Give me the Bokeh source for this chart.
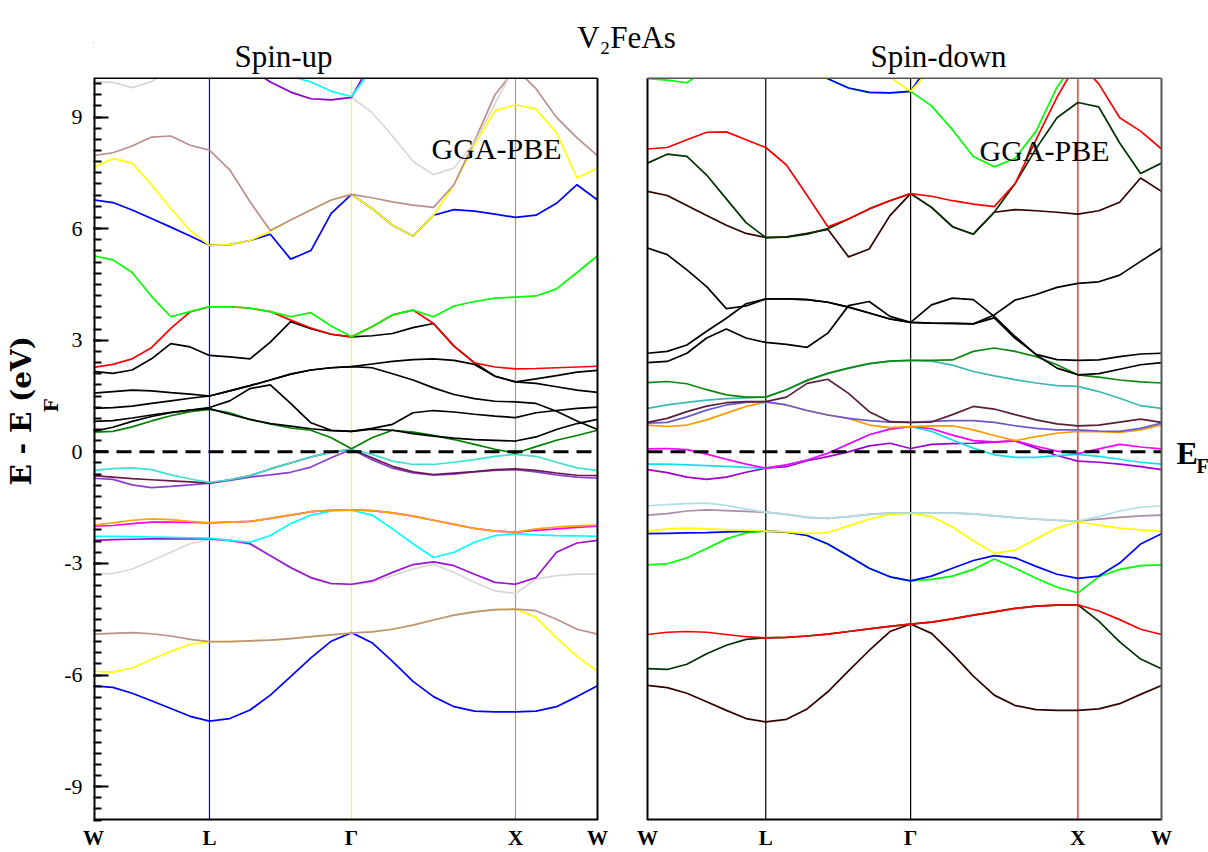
import math
from bokeh.plotting import figure
from bokeh.models import Range1d, FixedTicker, Label, Title
from bokeh.embed import file_html
from bokeh.resources import INLINE

# ---------------- k-path (fcc, units of 2pi/a) ----------------
SEG_LEN = [0.7071, 0.8660, 1.0000, 0.5000]      # W-L, L-G, G-X, X-W
SEG_DIV = [6, 7, 8, 4]                          # sampled points per segment
SYM_LABELS = ["W", "L", "Γ", "X", "W"]
Y_MAJOR = [-9, -6, -3, 0, 3, 6, 9]

# ---------------- Spin-up bands (eV, read at the sampled k-points) ----------------
up_blue_lo   = [-6.29,-6.33,-6.49,-6.69,-6.90,-7.11,-7.24, -7.17,-6.94,-6.54,-6.04,-5.54,-5.09,-4.86, -5.13,-5.63,-6.17,-6.58,-6.85,-6.97,-6.99,-6.99, -6.97,-6.85,-6.58,-6.29]
up_yellow_lo = [-5.90,-5.92,-5.81,-5.58,-5.36,-5.18,-5.10, -5.10,-5.08,-5.06,-5.02,-4.97,-4.92,-4.87, -4.84,-4.77,-4.66,-4.52,-4.39,-4.30,-4.24,-4.23, -4.45,-5.00,-5.50,-5.90]
up_brown_lo  = [-4.90,-4.88,-4.86,-4.89,-4.95,-5.04,-5.10, -5.10,-5.08,-5.06,-5.02,-4.97,-4.92,-4.87, -4.84,-4.77,-4.66,-4.52,-4.39,-4.30,-4.24,-4.23, -4.27,-4.50,-4.77,-4.90]
up_grey_mid  = [-3.29,-3.27,-3.15,-2.93,-2.70,-2.47,-2.36, -2.40,-2.49,-2.81,-3.13,-3.40,-3.56,-3.58, -3.51,-3.33,-3.15,-3.02,-3.24,-3.51,-3.74,-3.81, -3.42,-3.33,-3.29,-3.29]
up_violet_mid= [-2.38,-2.36,-2.35,-2.34,-2.34,-2.34,-2.34, -2.38,-2.47,-2.79,-3.11,-3.38,-3.54,-3.56, -3.47,-3.24,-3.03,-2.96,-3.06,-3.29,-3.51,-3.56, -3.38,-2.70,-2.45,-2.38]
up_cyan_mid  = [-2.27,-2.27,-2.28,-2.29,-2.30,-2.31,-2.32, -2.38,-2.43,-2.25,-1.93,-1.70,-1.59,-1.57, -1.70,-2.07,-2.47,-2.84,-2.70,-2.43,-2.25,-2.20, -2.23,-2.25,-2.26,-2.27]
up_magenta   = [-2.00,-1.98,-1.93,-1.89,-1.89,-1.90,-1.91, -1.89,-1.87,-1.79,-1.70,-1.61,-1.57,-1.56, -1.58,-1.64,-1.73,-1.84,-1.95,-2.06,-2.13,-2.16, -2.11,-2.07,-2.03,-2.00]
up_orange    = [-1.97,-1.91,-1.84,-1.80,-1.82,-1.87,-1.91, -1.89,-1.87,-1.79,-1.70,-1.61,-1.57,-1.56, -1.58,-1.64,-1.73,-1.84,-1.95,-2.06,-2.13,-2.16, -2.07,-2.02,-1.99,-1.97]
up_violet_lo = [-0.71,-0.74,-0.89,-0.96,-0.93,-0.89,-0.84, -0.77,-0.68,-0.62,-0.55,-0.41,-0.16,0.07, -0.21,-0.44,-0.57,-0.63,-0.60,-0.54,-0.50,-0.48, -0.54,-0.62,-0.68,-0.71]
up_maroon    = [-0.64,-0.68,-0.72,-0.75,-0.78,-0.81,-0.84, -0.75,-0.64,-0.46,-0.30,-0.14,-0.01,0.07, -0.16,-0.39,-0.54,-0.61,-0.57,-0.53,-0.48,-0.46, -0.50,-0.57,-0.63,-0.64]
up_turq      = [-0.50,-0.45,-0.43,-0.48,-0.62,-0.73,-0.82, -0.75,-0.64,-0.46,-0.30,-0.14,-0.01,0.07, -0.07,-0.25,-0.34,-0.34,-0.28,-0.21,-0.12,-0.07, -0.12,-0.28,-0.43,-0.50]
up_green     = [0.53,0.55,0.67,0.83,0.97,1.08,1.14, 1.05,0.87,0.75,0.64,0.58,0.38,0.08, 0.38,0.58,0.53,0.44,0.33,0.20,0.07,-0.04, 0.14,0.31,0.44,0.58]
up_k1        = [0.55,0.66,0.82,0.95,1.05,1.12,1.16, 1.01,0.87,0.76,0.69,0.62,0.57,0.55, 0.61,0.58,0.49,0.42,0.37,0.33,0.31,0.29, 0.40,0.60,0.76,0.87]
up_k2        = [0.82,0.84,0.91,0.99,1.06,1.12,1.19, 1.37,1.70,1.80,1.30,0.78,0.58,0.55, 0.63,0.74,1.05,1.11,1.07,1.01,0.96,0.92, 1.05,1.11,1.17,1.20]
up_k3        = [1.17,1.19,1.23,1.30,1.37,1.44,1.50, 1.64,1.78,1.93,2.09,2.20,2.26,2.29, 2.26,2.10,1.93,1.72,1.54,1.43,1.36,1.34, 1.30,1.09,0.83,0.60]
up_k4        = [1.58,1.62,1.66,1.64,1.59,1.55,1.50, 1.64,1.78,1.93,2.09,2.20,2.26,2.29, 2.36,2.43,2.48,2.50,2.46,2.35,2.03,1.88, 1.96,2.05,2.14,2.19]
up_k5        = [2.16,2.11,2.20,2.50,2.91,2.82,2.59, 2.55,2.50,2.95,3.50,3.31,3.16,3.09, 3.12,3.18,3.34,3.45,2.84,2.39,2.03,1.88, 1.84,1.75,1.66,1.60]
up_red       = [2.27,2.35,2.50,2.80,3.32,3.76,3.90, 3.90,3.86,3.77,3.54,3.33,3.16,3.09, 3.36,3.68,3.81,3.45,2.84,2.39,2.28,2.23, 2.24,2.26,2.28,2.30]
up_lime      = [5.27,5.16,4.82,4.18,3.63,3.77,3.90, 3.90,3.86,3.77,3.63,3.74,3.38,3.09, 3.36,3.68,3.81,3.63,3.92,4.04,4.13,4.16, 4.19,4.38,4.82,5.27]
up_blue_hi   = [6.77,6.70,6.50,6.27,6.04,5.80,5.55, 5.57,5.68,5.85,5.18,5.41,6.41,6.92, 6.54,6.09,5.80,6.36,6.51,6.47,6.39,6.30, 6.36,6.68,7.18,6.77]
up_yellow_hi = [7.65,7.88,7.76,7.18,6.54,5.95,5.55, 5.57,5.68,5.93,6.23,6.50,6.77,6.92, 6.54,6.09,5.80,6.36,7.18,8.26,9.17,9.33, 9.21,8.58,7.36,7.63]
up_brown_hi  = [7.96,8.04,8.22,8.46,8.49,8.24,8.11, 7.58,6.72,5.95,6.23,6.50,6.77,6.92, 6.83,6.72,6.63,6.57,7.18,8.35,9.60,10.30, 9.76,8.99,8.44,7.96]
up_grey_hi   = [9.95,9.93,9.79,9.95,10.30,10.60,10.80, 10.60,10.30,9.94,9.67,9.49,9.46,9.53, 9.12,8.49,7.81,7.45,7.63,8.31,9.35,10.40, 10.80,10.70,10.50,10.20]
up_violet_hi = [11.0,11.0,11.0,11.0,11.0,11.0,10.9, 10.60,10.30,9.94,9.67,9.49,9.46,9.53, 10.5,11.0,11.0,11.0,11.0,11.0,11.0,11.0, 11.0,11.0,11.0,11.0]
up_cyan_hi   = [11.0,11.0,11.0,11.0,11.0,11.0,11.0, 11.0,10.8,10.5,10.1,9.94,9.69,9.55, 10.3,11.0,11.0,11.0,11.0,11.0,11.0,11.0, 11.0,11.0,11.0,11.0]

# ---------------- Spin-down bands ----------------
dn_darkred    = [-6.28,-6.34,-6.49,-6.72,-6.95,-7.17,-7.26, -7.19,-6.91,-6.45,-5.89,-5.34,-4.83,-4.63, -4.88,-5.43,-6.03,-6.54,-6.82,-6.93,-6.95,-6.95, -6.91,-6.77,-6.52,-6.28]
dn_dkgreen_lo = [-5.83,-5.85,-5.71,-5.43,-5.20,-5.04,-5.00, -4.99,-4.95,-4.90,-4.83,-4.76,-4.69,-4.63, -4.58,-4.49,-4.39,-4.30,-4.21,-4.15,-4.12,-4.11, -4.55,-5.11,-5.57,-5.83]
dn_red_lo     = [-4.91,-4.85,-4.83,-4.85,-4.91,-4.97,-5.00, -4.99,-4.95,-4.90,-4.83,-4.76,-4.69,-4.63, -4.58,-4.49,-4.39,-4.30,-4.21,-4.15,-4.12,-4.11, -4.28,-4.51,-4.77,-4.91]
dn_lime_mid   = [-3.04,-3.01,-2.85,-2.60,-2.34,-2.18,-2.13, -2.16,-2.25,-2.48,-2.80,-3.13,-3.36,-3.47, -3.43,-3.34,-3.16,-2.88,-3.13,-3.40,-3.64,-3.79, -3.36,-3.16,-3.06,-3.04]
dn_blue_mid   = [-2.20,-2.19,-2.18,-2.17,-2.15,-2.14,-2.13, -2.16,-2.25,-2.48,-2.80,-3.13,-3.36,-3.47, -3.34,-3.13,-2.92,-2.79,-2.85,-3.08,-3.29,-3.40, -3.34,-2.99,-2.48,-2.20]
dn_yellow_mid = [-2.14,-2.07,-2.05,-2.07,-2.09,-2.11,-2.13, -2.15,-2.20,-2.17,-1.99,-1.81,-1.68,-1.65, -1.74,-2.02,-2.39,-2.73,-2.64,-2.34,-2.05,-1.88, -1.97,-2.05,-2.10,-2.14]
dn_mauve      = [-1.70,-1.66,-1.59,-1.56,-1.58,-1.60,-1.62, -1.68,-1.76,-1.79,-1.74,-1.68,-1.65,-1.65, -1.65,-1.65,-1.67,-1.72,-1.77,-1.81,-1.84,-1.86, -1.81,-1.76,-1.72,-1.70]
dn_powder     = [-1.45,-1.42,-1.39,-1.38,-1.44,-1.54,-1.62, -1.68,-1.76,-1.79,-1.74,-1.68,-1.65,-1.65, -1.65,-1.65,-1.67,-1.72,-1.77,-1.81,-1.84,-1.86, -1.74,-1.59,-1.49,-1.45]
dn_violet     = [-0.48,-0.56,-0.68,-0.74,-0.68,-0.55,-0.44, -0.40,-0.24,-0.13,0.00,0.16,0.23,0.09, 0.20,0.22,0.23,0.26,0.29,0.10,-0.10,-0.25, -0.28,-0.33,-0.40,-0.48]
dn_cyan       = [-0.33,-0.33,-0.35,-0.37,-0.39,-0.42,-0.44, -0.35,-0.22,-0.04,0.21,0.46,0.61,0.68, 0.55,0.32,0.10,-0.08,-0.15,-0.15,-0.10,-0.07, -0.12,-0.20,-0.28,-0.33]
dn_magenta    = [0.08,0.09,0.06,-0.06,-0.20,-0.33,-0.44, -0.35,-0.22,-0.04,0.21,0.46,0.61,0.68, 0.62,0.45,0.30,0.27,0.30,0.15,0.02,-0.05, 0.08,0.20,0.13,0.08]
dn_orange     = [0.72,0.68,0.72,0.86,1.04,1.22,1.33, 1.26,1.11,0.99,0.90,0.72,0.65,0.68, 0.70,0.70,0.59,0.44,0.30,0.41,0.50,0.55, 0.54,0.52,0.59,0.72]
dn_slate      = [0.77,0.79,0.94,1.12,1.26,1.33,1.35, 1.26,1.11,0.99,0.90,0.84,0.80,0.79, 0.82,0.84,0.84,0.79,0.70,0.63,0.59,0.59, 0.56,0.55,0.63,0.77]
dn_maroon     = [0.79,0.90,1.08,1.23,1.32,1.35,1.35, 1.47,1.84,1.95,1.57,1.08,0.81,0.79, 0.80,1.00,1.22,1.15,1.00,0.86,0.75,0.70, 0.72,0.80,0.88,0.79]
dn_teal       = [1.17,1.26,1.33,1.39,1.43,1.45,1.47, 1.67,1.92,2.11,2.25,2.37,2.44,2.46, 2.44,2.33,2.16,2.04,1.94,1.85,1.78,1.76, 1.62,1.44,1.24,1.17]
dn_green      = [1.86,1.89,1.83,1.67,1.53,1.47,1.47, 1.67,1.92,2.11,2.25,2.37,2.44,2.46, 2.46,2.47,2.70,2.79,2.70,2.56,2.34,2.07, 2.01,1.93,1.88,1.85]
dn_k1         = [5.48,5.30,4.89,4.44,3.85,3.92,4.11, 4.11,4.09,4.02,3.89,3.73,3.57,3.48, 3.46,3.45,3.44,3.68,4.08,4.23,4.42,4.53, 4.57,4.75,5.12,5.48]
dn_k2         = [2.65,2.70,2.87,3.24,3.59,3.98,4.11, 4.11,4.09,4.02,3.89,3.73,3.57,3.48, 3.46,3.45,3.44,3.60,3.05,2.62,2.48,2.46, 2.47,2.56,2.63,2.65]
dn_k3         = [2.40,2.43,2.65,3.06,3.30,3.06,2.94, 2.89,2.81,3.19,3.93,4.04,3.64,3.48, 3.95,4.13,4.09,3.64,3.10,2.61,2.25,2.07, 2.10,2.22,2.34,2.40]
dn_maroon_hi  = [7.00,6.89,6.62,6.35,6.09,5.87,5.76, 5.78,5.87,5.98,5.24,5.45,6.35,6.94, 6.57,6.05,5.85,6.44,6.51,6.48,6.44,6.39, 6.48,6.71,7.36,7.00]
dn_dkgreen_hi = [7.76,8.00,7.94,7.44,6.80,6.16,5.76, 5.77,5.85,6.00,6.26,6.53,6.75,6.94, 6.57,6.05,5.85,6.44,7.21,8.15,8.98,9.39, 9.27,8.30,7.48,7.76]
dn_red_hi     = [8.14,8.18,8.39,8.59,8.60,8.39,8.18, 7.71,6.89,6.05,6.26,6.53,6.75,6.94, 6.87,6.75,6.66,6.59,7.21,8.39,9.53,10.50, 9.89,8.98,8.62,8.14]
dn_lime_hi    = [10.03,9.99,9.92,10.30,10.60,10.80,10.90, 10.70,10.40,10.03,9.78,9.66,9.65,9.69, 9.30,8.66,7.94,7.66,7.89,8.62,9.80,10.60, 10.90,10.80,10.60,10.20]
dn_blue_hi    = [11.0,11.0,11.0,11.0,11.0,11.0,10.9, 10.70,10.40,10.03,9.78,9.66,9.65,9.69, 10.5,11.0,11.0,11.0,11.0,11.0,11.0,11.0, 11.0,11.0,11.0,11.0]
dn_yellow_hi  = [11.0,11.0,11.0,11.0,11.0,11.0,11.0, 11.0,11.0,11.0,10.8,10.35,10.07,9.69, 10.3,11.0,11.0,11.0,11.0,11.0,11.0,11.0, 11.0,11.0,11.0,11.0]

LEFT_BANDS = [
    (up_blue_lo, "#0000ff"), (up_yellow_lo, "#ffff00"), (up_brown_lo, "#bc8f8f"),
    (up_grey_mid, "#d8d8d8"), (up_violet_mid, "#9a12d8"), (up_cyan_mid, "#00ffff"),
    (up_magenta, "#ff00ff"), (up_orange, "#ffa500"), (up_violet_lo, "#8b3fcf"),
    (up_maroon, "#6b1a4f"), (up_turq, "#40e0d0"), (up_green, "#008000"),
    (up_k1, "#000000"), (up_k2, "#000000"), (up_k3, "#000000"), (up_k4, "#000000"),
    (up_k5, "#000000"), (up_red, "#ff0000"), (up_lime, "#00ff00"),
    (up_blue_hi, "#0000ff"), (up_yellow_hi, "#ffff00"), (up_brown_hi, "#bc8f8f"),
    (up_grey_hi, "#d8d8d8"), (up_violet_hi, "#9400d3"), (up_cyan_hi, "#00ffff"),
]
RIGHT_BANDS = [
    (dn_darkred, "#330000"), (dn_dkgreen_lo, "#003300"), (dn_red_lo, "#ff0000"),
    (dn_lime_mid, "#00ff00"), (dn_blue_mid, "#0000ff"), (dn_yellow_mid, "#ffff00"),
    (dn_mauve, "#b08aa8"), (dn_powder, "#b0e0e6"), (dn_violet, "#a000d0"),
    (dn_cyan, "#10e0e8"), (dn_magenta, "#ff00ff"), (dn_orange, "#ff9900"),
    (dn_slate, "#6a5acd"), (dn_maroon, "#5a1e3c"), (dn_teal, "#3cb8b0"),
    (dn_green, "#108810"), (dn_k1, "#000000"), (dn_k2, "#000000"), (dn_k3, "#000000"),
    (dn_maroon_hi, "#330000"), (dn_dkgreen_hi, "#003300"), (dn_red_hi, "#ff0000"),
    (dn_lime_hi, "#00ff00"), (dn_blue_hi, "#0000ff"), (dn_yellow_hi, "#ffff00"),
]
LEFT_SYM_COLORS = ["#0000ff", "#ffff00", "#bc8f8f"]
RIGHT_SYM_COLORS = ["#000000", "#000000", "#ff0000"]

# ---------------- k grid ----------------
K_SYM = [0.0]
for L in SEG_LEN:
    K_SYM.append(K_SYM[-1] + L)
KW = K_SYM[-1]
K = [0.0]
for i, (L, n) in enumerate(zip(SEG_LEN, SEG_DIV)):
    for j in range(1, n + 1):
        K.append(K_SYM[i] + L * j / n)

# ---------------- layout (canvas pixels) ----------------
W_FIG, H_FIG = 1208, 852
PANEL_L, PANEL_T, PANEL_B = 93, 78, 822     # left panel left edge, panels top / bottom
LW, GAP, RW = 504, 50, 514                  # left panel width, gap, right panel width
FW = W_FIG - PANEL_L                        # frame spans to the right canvas edge
Y_TOP, Y_BOT = 10.04, -9.91
PPE = (PANEL_B - PANEL_T) / (Y_TOP - Y_BOT)  # pixels per eV
Y_FRAME_TOP = Y_BOT + PANEL_B / PPE

p = figure(width=W_FIG, height=H_FIG,
           x_range=Range1d(0, KW * FW / LW), y_range=Range1d(Y_BOT, Y_FRAME_TOP),
           output_backend="svg", toolbar_location=None,
           min_border_left=PANEL_L, min_border_right=0,
           min_border_top=0, min_border_bottom=H_FIG - PANEL_B)
r_start = -KW * (LW + GAP) / RW
p.extra_x_ranges = {"right": Range1d(r_start, r_start + KW * FW / RW)}
p.outline_line_color = None
p.xgrid.visible = False
p.ygrid.visible = False
p.background_fill_color = "white"
p.border_fill_color = "white"

# y axis
minor = [round(-9.9 + 0.3 * i, 2) for i in range(67)]
ya = p.yaxis[0]
ya.ticker = FixedTicker(ticks=Y_MAJOR, minor_ticks=minor)
ya.major_label_overrides = {v: str(v) for v in Y_MAJOR}
ya.axis_line_color = None
ya.major_tick_in = 15
ya.major_tick_out = 0
ya.minor_tick_in = 8
ya.minor_tick_out = 0
ya.major_tick_line_width = 2
ya.minor_tick_line_width = 2
ya.major_label_text_font = "Liberation Serif"
ya.major_label_text_font_size = "22px"
ya.major_label_text_color = "black"
ya.major_label_standoff = 11

# x axis (symmetry labels for both panels)
right_ticks = [(LW + GAP + k * RW / KW) * KW / LW for k in K_SYM]
ticks = list(K_SYM) + right_ticks
xa = p.xaxis[0]
xa.ticker = FixedTicker(ticks=ticks)
xa.major_label_overrides = {t: lab for t, lab in zip(ticks, SYM_LABELS + SYM_LABELS)}
xa.axis_line_color = None
xa.major_tick_line_color = None
xa.minor_tick_line_color = None
xa.major_tick_in = 0
xa.major_tick_out = 0
xa.minor_tick_in = 0
xa.minor_tick_out = 0
xa.major_label_text_font = "Liberation Serif"
xa.major_label_text_font_style = "bold"
xa.major_label_text_font_size = "21px"
xa.major_label_text_color = "black"
xa.major_label_standoff = 5

# high-symmetry vertical lines
mid = K_SYM[1:4]
p.segment(x0=mid, y0=[Y_BOT] * 3, x1=mid, y1=[Y_TOP] * 3,
          line_color=LEFT_SYM_COLORS, line_width=1.2)
p.segment(x0=mid, y0=[Y_BOT] * 3, x1=mid, y1=[Y_TOP] * 3,
          line_color=RIGHT_SYM_COLORS, line_width=1.2, x_range_name="right")

# bands
for vals, col in LEFT_BANDS:
    p.line(K, vals, line_color=col, line_width=1.7)
for vals, col in RIGHT_BANDS:
    p.line(K, vals, line_color=col, line_width=1.7, x_range_name="right")

# white mask above the panels (bands leave the window at the top)
p.quad(left=[0], right=[KW * FW / LW], bottom=[Y_TOP], top=[Y_FRAME_TOP],
       fill_color="white", line_color=None)

# Fermi level
p.segment(x0=[0], y0=[0], x1=[KW], y1=[0], line_color="black", line_width=3, line_dash="15 8")
p.segment(x0=[0], y0=[0], x1=[KW], y1=[0], line_color="black", line_width=3, line_dash="15 8",
          x_range_name="right")

# panel borders
p.segment(x0=[0, KW, 0, 0], y0=[Y_BOT, Y_BOT, Y_TOP, Y_BOT], x1=[0, KW, KW, KW], y1=[Y_TOP, Y_TOP, Y_TOP, Y_BOT],
          line_color="black", line_width=[4, 2, 1.5, 4])
p.segment(x0=[0, 0, KW, 0], y0=[Y_BOT, Y_BOT, Y_BOT, Y_TOP], x1=[0, KW, KW, KW], y1=[Y_TOP, Y_BOT, Y_TOP, Y_TOP],
          line_color=["#000000", "#000000", "#555555", "#555555"], line_width=[2, 4, 2, 1.5],
          x_range_name="right")

# ---------------- texts ----------------
def lx(px):
    return (px - PANEL_L) * KW / LW

def ly(py):
    return Y_TOP - (py - PANEL_T) / PPE

SERIF = "Liberation Serif"
texts = [
    dict(x=lx(283), y=ly(56), text="Spin-up", text_font_size="31px", text_align="center"),
    dict(x=lx(938), y=ly(56), text="Spin-down", text_font_size="31px", text_align="center"),
    dict(x=lx(626), y=ly(37), text="V₂FeAs", text_font_size="31px", text_align="center"),
    dict(x=lx(496), y=ly(148), text="GGA-PBE", text_font_size="30px", text_align="center"),
    dict(x=lx(1044), y=ly(150), text="GGA-PBE", text_font_size="30px", text_align="center"),
    dict(x=lx(1176), y=ly(454), text="E", text_font_size="32px", text_align="left", text_font_style="bold"),
    dict(x=lx(1196), y=ly(467), text="F", text_font_size="20px", text_align="left", text_font_style="bold"),
]
for t in texts:
    p.add_layout(Label(text_font=SERIF, text_color="black", text_baseline="alphabetic", **t))

# y-axis title "E - E_F (eV)": main text and lowered subscript, both on the left side
YLAB_FONT = "DejaVu Serif"
t_sub = Title(text="F", align="left", offset=PANEL_B - 414, standoff=0,
              text_font=YLAB_FONT, text_font_size="19px", text_font_style="bold", text_color="black")
t_main = Title(text="E - E   (eV)", align="left", offset=PANEL_B - 487, standoff=0,
               text_font=YLAB_FONT, text_font_size="28px", text_font_style="bold", text_color="black")
p.add_layout(t_sub, "left")
p.add_layout(t_main, "left")

open("out.html", "w").write(file_html(p, INLINE))
